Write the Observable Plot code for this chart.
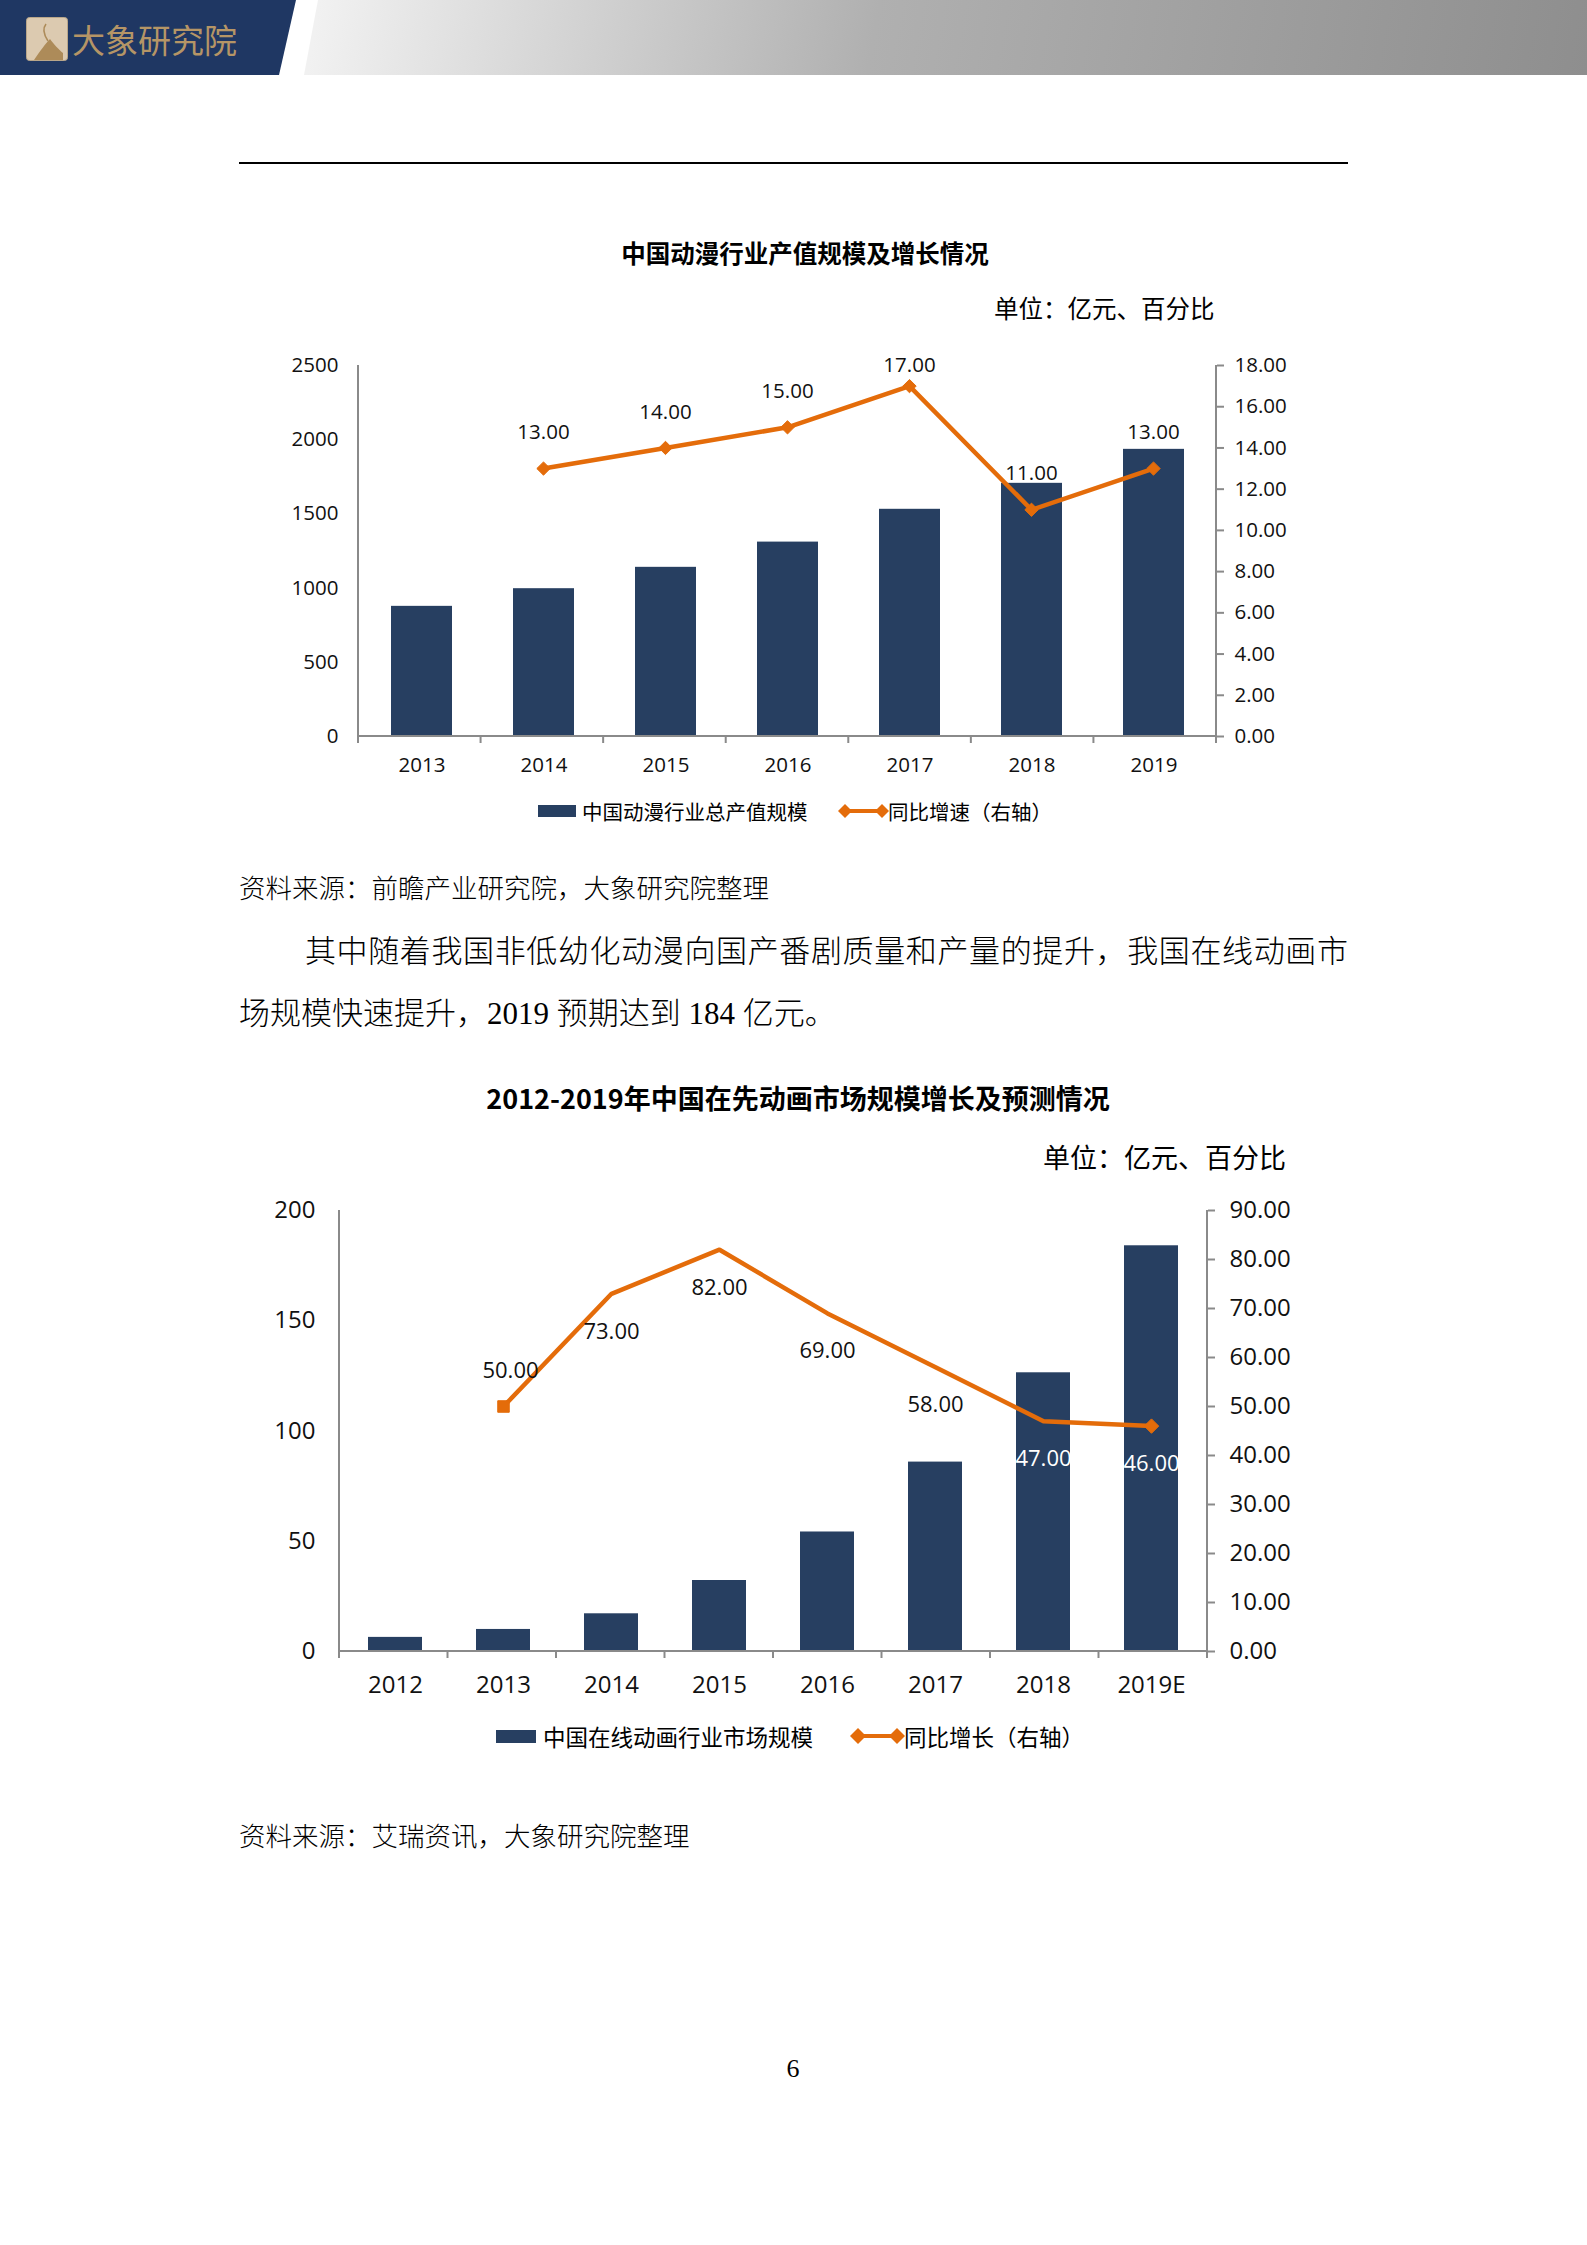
<!DOCTYPE html>
<html>
<head>
<meta charset="utf-8">
<script src="https://cdn.jsdelivr.net/npm/d3@7"></script>
<script src="https://cdn.jsdelivr.net/npm/@observablehq/plot@0.6"></script>
<style>
html,body{margin:0;padding:0;background:#fff;}
#page{position:relative;width:1587px;height:2245px;overflow:hidden;background:#fff;font-family:"Noto Sans CJK SC",sans-serif;color:#000;}
.abs{position:absolute;white-space:nowrap;}
.serif{font-family:"Liberation Serif","Noto Sans CJK SC",serif;font-weight:300;}
.cjk{font-family:"Noto Sans CJK SC",sans-serif;}
.chart{position:absolute;left:0;width:1587px;}
.chart svg{position:absolute;left:0;top:0;}
.leg{display:flex;align-items:center;}
</style>
</head>
<body>
<div id="page">
  <!-- header band -->
  <div class="abs" style="left:0;top:0;width:1587px;height:75px;background:#1f3763;clip-path:polygon(0 0,296px 0,279px 75px,0 75px);"></div>
  <div class="abs" style="left:0;top:0;width:1587px;height:75px;background:linear-gradient(100deg,#f1f1f1 20%,#b0b0b0 55%,#8e8e8e 100%);clip-path:polygon(318px 0,1587px 0,1587px 75px,304px 75px);"></div>
  <svg class="abs" style="left:26px;top:17px;" width="42" height="44" viewBox="0 0 42 44">
    <rect x="0.5" y="0.5" width="41" height="43" rx="3" fill="#dccab0" stroke="#b9a68a"/>
    <path d="M8 43 C14 34 20 26 24 22 C27 26 33 33 37 36 L37 43 Z" fill="#ad8b59"/>
    <path d="M22 24 C18 18 16 12 20 7" stroke="#ad8b59" stroke-width="1.6" fill="none"/>
  </svg>
  <div class="abs cjk" style="left:72px;top:19px;font-size:33px;line-height:40px;color:#b59566;">大象研究院</div>

  <!-- rule -->
  <div class="abs" style="left:239px;top:162px;width:1109px;height:2px;background:#000;"></div>

  <!-- chart 1 texts -->
  <div class="abs cjk" style="left:405px;width:800px;text-align:center;top:238px;line-height:30px;font-size:24.5px;font-weight:bold;">中国动漫行业产值规模及增长情况</div>
  <div class="abs cjk" style="left:994px;top:293px;line-height:30px;font-size:24.5px;">单位：亿元、百分比</div>
  <div id="chart1" class="chart" style="top:330px;height:470px;"></div>
  <div class="abs leg cjk" style="left:538px;top:797px;height:28px;font-size:20.5px;line-height:28px;">
    <div style="width:38px;height:12px;background:#273f61;margin-right:6px;"></div>
    <span>中国动漫行业总产值规模</span>
  </div>
  <div class="abs leg cjk" style="left:839px;top:797px;height:28px;font-size:20.5px;line-height:28px;">
    <svg width="49" height="18" style="overflow:visible"><line x1="6" x2="43" y1="9" y2="9" stroke="#e46c0a" stroke-width="4"/><path d="M6 2L13 9L6 16L-1 9Z" fill="#e46c0a"/><path d="M43 2L50 9L43 16L36 9Z" fill="#e46c0a"/></svg>
    <span>同比增速（右轴）</span>
  </div>
  <div class="abs serif" style="left:239px;top:872px;font-size:26.5px;line-height:34px;">资料来源：前瞻产业研究院，大象研究院整理</div>

  <!-- body text -->
  <div class="abs serif" style="left:305px;top:932px;width:1043px;font-size:31px;line-height:40px;text-align:justify;text-align-last:justify;white-space:normal;">其中随着我国非低幼化动漫向国产番剧质量和产量的提升，我国在线动画市</div>
  <div class="abs serif" style="left:239px;top:994px;font-size:31px;line-height:40px;">场规模快速提升，2019 预期达到 184 亿元。</div>

  <!-- chart 2 texts -->
  <div class="abs cjk" style="left:398px;width:800px;text-align:center;top:1082px;line-height:32px;font-size:27px;font-weight:bold;">2012-2019年中国在先动画市场规模增长及预测情况</div>
  <div class="abs cjk" style="left:1043px;top:1141px;line-height:32px;font-size:27px;">单位：亿元、百分比</div>
  <div id="chart2" class="chart" style="top:1180px;height:531px;"></div>
  <div class="abs leg cjk" style="left:496px;top:1720px;height:32px;font-size:22.5px;line-height:32px;">
    <div style="width:40px;height:13px;background:#273f61;margin-right:7px;"></div>
    <span>中国在线动画行业市场规模</span>
  </div>
  <div class="abs leg cjk" style="left:851px;top:1720px;height:32px;font-size:22.5px;line-height:32px;">
    <svg width="53" height="18" style="overflow:visible"><line x1="7" x2="46" y1="9" y2="9" stroke="#e46c0a" stroke-width="4"/><path d="M7 1L15 9L7 17L-1 9Z" fill="#e46c0a"/><path d="M46 1L54 9L46 17L38 9Z" fill="#e46c0a"/></svg>
    <span>同比增长（右轴）</span>
  </div>
  <div class="abs serif" style="left:239px;top:1820px;font-size:26.5px;line-height:34px;">资料来源：艾瑞资讯，大象研究院整理</div>

  <div class="abs serif" style="left:693px;width:200px;text-align:center;top:2052px;font-size:26px;line-height:34px;">6</div>
</div>
<script>
// ---------- data ----------
const years1 = ["2013", "2014", "2015", "2016", "2017", "2018", "2019"];
const output1 = [877, 996, 1140, 1310, 1531, 1706, 1935];
const growth1 = [null, 13, 14, 15, 17, 11, 13];
const leftTicks1 = [0, 500, 1000, 1500, 2000, 2500];
const rightTicks1 = [0, 2, 4, 6, 8, 10, 12, 14, 16, 18];

const years2 = ["2012", "2013", "2014", "2015", "2016", "2017", "2018", "2019E"];
const market2 = [6.4, 10.0, 17.1, 32.2, 54.2, 85.9, 126.4, 184];
const growth2 = [null, 50, 73, 82, 69, 58, 47, 46];
const leftTicks2 = [0, 50, 100, 150, 200];
const rightTicks2 = [0, 10, 20, 30, 40, 50, 60, 70, 80, 90];

// ---------- style ----------
const NAVY = "#273f61";
const ORANGE = "#e46c0a";
const AXIS = "#8a8a8a";
const CHART_FONT = "'Open Sans','Noto Sans CJK SC',sans-serif";
const fmt2 = d3.format(".2f");

function dualChart(el, cfg) {
  const {cats, bars, growth, leftTicks, rightTicks, ml, mr, mt, mb, h, font,
         xPad, lPad, rTick, rPad, lineW, markers, labels, labelSize} = cfg;
  const W = 1587;
  const rows = cats.map((c, i) => ({cat: c, bar: bars[i], g: growth[i]}));
  const lineRows = rows.filter(d => d.g != null);
  const bmax = leftTicks[leftTicks.length - 1];
  const gmax = rightTicks[rightTicks.length - 1];
  const plotH = h - mt - mb;
  const common = {width: W, height: h, marginLeft: ml, marginRight: mr, marginTop: mt, marginBottom: mb};
  const xBase = {domain: cats, paddingInner: 0.5, paddingOuter: 0.25, align: 0.5, label: null};
  const style = {fontFamily: CHART_FONT, fontSize: font + "px", color: "#111", background: "transparent", overflow: "visible"};

  const x0 = ml, x1 = W - mr, yb = h - mb, yt = mt, tl = 7;
  const frame = () => {
    const g = d3.create("svg:g").attr("stroke", AXIS).attr("stroke-width", 2).attr("fill", "none");
    const step = (x1 - x0) / cats.length;
    g.append("line").attr("x1", x0).attr("x2", x0).attr("y1", yt).attr("y2", yb + tl);
    g.append("line").attr("x1", x1).attr("x2", x1).attr("y1", yt).attr("y2", yb + tl);
    g.append("line").attr("x1", x0).attr("x2", x1).attr("y1", yb).attr("y2", yb);
    for (let i = 1; i < cats.length; i++) {
      g.append("line").attr("x1", x0 + i * step).attr("x2", x0 + i * step).attr("y1", yb).attr("y2", yb + tl);
    }
    return g.node();
  };

  const p1 = Plot.plot({
    ...common, style,
    x: {...xBase, tickSize: 0, tickPadding: xPad},
    y: {domain: [0, bmax], ticks: leftTicks, tickSize: 0, tickPadding: lPad, tickFormat: d => String(d), label: null},
    marks: [
      Plot.barY(rows, {x: "cat", y: "bar", fill: NAVY}),
      frame
    ]
  });

  // label position in right-axis units: offset (px) converted to data units, kept inside the plot top
  const labelMarks = [];
  for (const L of labels) {
    const sel = L.pick(lineRows);
    const ly = d => Math.min(d.g - L.dy * gmax / plotH, gmax);
    const onBar = d => d.bar / bmax > ly(d) / gmax;
    const base = {x: "cat", y: ly, text: d => fmt2(d.g), dx: L.dx || 0, fontSize: labelSize};
    labelMarks.push(Plot.text(sel.filter(d => !onBar(d)), {...base, fill: "#111"}));
    labelMarks.push(Plot.text(sel.filter(d => onBar(d)), {...base, fill: "white"}));
  }

  const p2 = Plot.plot({
    ...common, style,
    x: {...xBase, axis: null},
    y: {domain: [0, gmax], ticks: rightTicks, axis: "right", tickSize: rTick, tickPadding: rPad, tickFormat: fmt2, label: null},
    marks: [
      Plot.line(lineRows, {x: "cat", y: "g", stroke: ORANGE, strokeWidth: lineW, strokeLinejoin: "round"}),
      ...markers.map(m => Plot.dot(m.pick(lineRows), {x: "cat", y: "g", symbol: m.symbol, r: m.r, fill: ORANGE, stroke: ORANGE, strokeWidth: 1})),
      ...labelMarks
    ]
  });
  d3.select(p2).selectAll('[aria-label^="y-axis"] line, [aria-label^="y-axis"] path')
    .attr("stroke", AXIS).attr("stroke-width", 2);

  el.appendChild(p1);
  el.appendChild(p2);
}

dualChart(document.getElementById("chart1"), {
  cats: years1, bars: output1, growth: growth1, leftTicks: leftTicks1, rightTicks: rightTicks1,
  ml: 358, mr: 371, mt: 35, mb: 64, h: 470, font: 20.5,
  xPad: 21, lPad: 20, rTick: 7, rPad: 11, lineW: 4.5, labelSize: 20.5,
  markers: [{pick: r => r, symbol: "diamond2", r: 6}],
  labels: [{pick: r => r, dy: -36}]
});

dualChart(document.getElementById("chart2"), {
  cats: years2, bars: market2, growth: growth2, leftTicks: leftTicks2, rightTicks: rightTicks2,
  ml: 339, mr: 380, mt: 30, mb: 60, h: 531, font: 24,
  xPad: 24, lPad: 24, rTick: 7, rPad: 15, lineW: 4.5, labelSize: 22,
  markers: [{pick: r => r.slice(0, 1), symbol: "square", r: 6.5}, {pick: r => r.slice(-1), symbol: "diamond2", r: 6.5}],
  labels: [{pick: r => r.slice(0, 1), dy: -36, dx: 7}, {pick: r => r.slice(1), dy: 38}]
});
</script>
</body>
</html>
